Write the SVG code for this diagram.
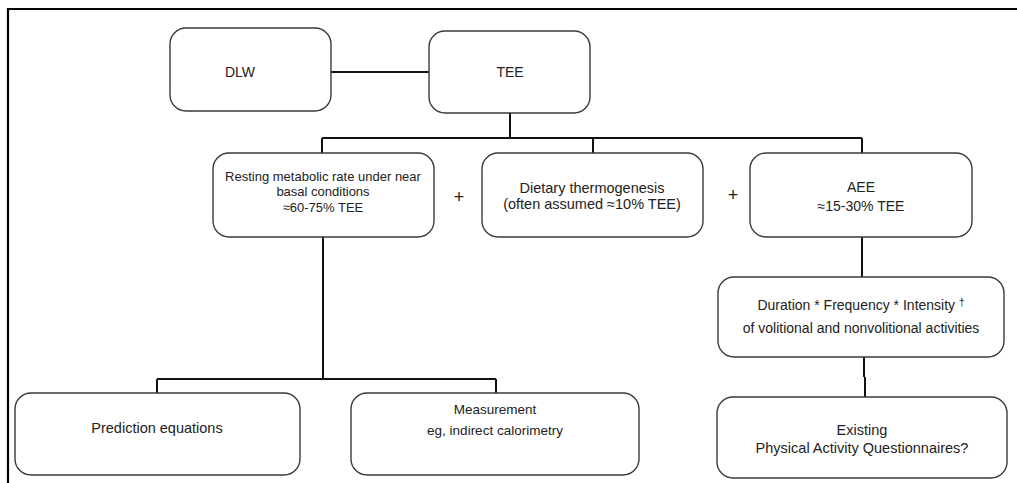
<svg xmlns="http://www.w3.org/2000/svg" width="1017" height="483" viewBox="0 0 1017 483">
<style>
.box{fill:#fff;stroke:#3a3a3a;stroke-width:1.4}
.t{font-family:"Liberation Sans",Arial,sans-serif;fill:#222;text-anchor:middle}
.c{fill:none;stroke:#111;stroke-width:2}
.p{font-family:"Liberation Sans",Arial,sans-serif;fill:#222;text-anchor:middle;font-size:18px}
</style>
<rect width="1017" height="483" fill="#fff"/>
<path d="M8 483 V9 H1017" fill="none" stroke="#000" stroke-width="2.2"/>
<g id="connectors" class="c">
<path d="M331 72 H429"/>
<path d="M510 113 V138 M322 138 H862 M322 138 V154 M593 138 V154 M862 138 V154"/>
<path d="M323 237 V379 M157 379 H496 M157 379 V393 M496 379 V393"/>
<path d="M862 237 V277"/>
<path d="M864 357 V377 M865 377 V397"/>
</g>
<g id="dlw"><rect class="box" x="170" y="28" width="161" height="83" rx="16"/><text class="t" x="240" y="77" font-size="14">DLW</text></g>
<g id="tee"><rect class="box" x="429" y="31" width="161" height="82" rx="16"/><text class="t" x="510" y="77" font-size="14">TEE</text></g>
<g id="rmr"><rect class="box" x="213" y="153" width="221" height="84" rx="16"/>
<text class="t" font-size="13"><tspan x="323" y="181">Resting metabolic rate under near</tspan><tspan x="323" y="196">basal conditions</tspan><tspan x="323" y="212">≈60-75% TEE</tspan></text></g>
<g id="plus1"><text class="p" x="459" y="203">+</text></g>
<g id="dietary"><rect class="box" x="482" y="153" width="221" height="84" rx="16"/>
<text class="t" font-size="14.5"><tspan x="592" y="193">Dietary thermogenesis</tspan><tspan x="592" y="209">(often assumed ≈10% TEE)</tspan></text></g>
<g id="plus2"><text class="p" x="733" y="201">+</text></g>
<g id="aee"><rect class="box" x="750" y="153" width="222" height="84" rx="16"/>
<text class="t" font-size="14"><tspan x="861" y="192">AEE</tspan><tspan x="861" y="211">≈15-30% TEE</tspan></text></g>
<g id="duration"><rect class="box" x="718" y="277" width="286" height="80" rx="16"/>
<text class="t" font-size="14"><tspan x="861" y="310">Duration * Frequency * Intensity <tspan font-size="10" dy="-4">†</tspan></tspan><tspan x="861" y="333">of volitional and nonvolitional activities</tspan></text></g>
<g id="prediction"><rect class="box" x="15" y="393" width="285" height="82" rx="16"/>
<text class="t" x="157" y="433" font-size="14.5">Prediction equations</text></g>
<g id="measurement"><rect class="box" x="351" y="393" width="288" height="82" rx="16"/>
<text class="t" font-size="13.5"><tspan x="495" y="414">Measurement</tspan><tspan x="495" y="435">eg, indirect calorimetry</tspan></text></g>
<g id="existing"><rect class="box" x="717" y="397" width="290" height="81" rx="16"/>
<text class="t" font-size="14.5"><tspan x="862" y="435">Existing</tspan><tspan x="862" y="453">Physical Activity Questionnaires?</tspan></text></g>
</svg>
